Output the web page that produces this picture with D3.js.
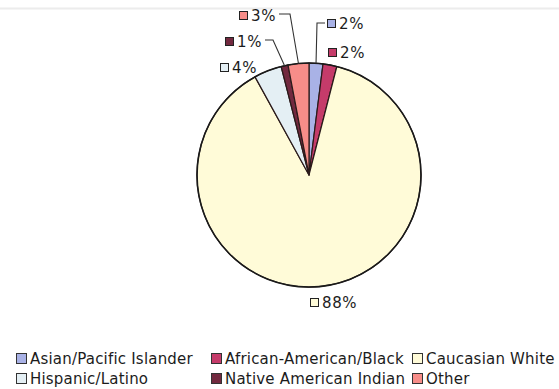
<!DOCTYPE html>
<html>
<head>
<meta charset="utf-8">
<script src="https://cdn.jsdelivr.net/npm/d3@7"></script>
<style>
  html, body { margin: 0; padding: 0; background: #fff; }
  svg { display: block; }
  text { font-family: "DejaVu Sans", Verdana, sans-serif; fill: #1c1c1c; }
</style>
</head>
<body>
<svg id="chart" width="559" height="389"></svg>
<script>
// Ethnic breakdown, percent of total
const categories = ["Asian/Pacific Islander", "African-American/Black", "Caucasian White",
                    "Hispanic/Latino", "Native American Indian", "Other"];
const values = [2, 2, 88, 4, 1, 3];
const colors = ["#a9b2e6", "#c53b6a", "#fffbd8", "#e4eff4", "#72293f", "#f78d89"];
// Legend order: two rows of three
const legendOrder = [0, 1, 2, 3, 4, 5];

const svg = d3.select("#chart");
const cx = 309, cy = 175, r = 112;

// faint rule along the top edge
svg.append("line").attr("x1", 0).attr("x2", 559).attr("y1", 8.5).attr("y2", 8.5)
  .attr("stroke", "#ececec").attr("stroke-width", 2);

const data = categories.map((c, i) => ({ name: c, value: values[i], color: colors[i] }));
const pie = d3.pie().value(d => d.value).sort(null);
const arcs = pie(data);
const arc = d3.arc().innerRadius(0).outerRadius(r);

const g = svg.append("g").attr("transform", `translate(${cx},${cy})`);
g.selectAll("path.slice").data(arcs).enter().append("path")
  .attr("class", "slice")
  .attr("d", arc)
  .attr("fill", d => d.data.color)
  .attr("stroke", "#2a1a1a")
  .attr("stroke-width", 1.2)
  .attr("stroke-linejoin", "round");

// outer rim
g.append("circle").attr("r", r).attr("fill", "none").attr("stroke", "#1a1a1a").attr("stroke-width", 1.6);

// Data labels: swatch + percent, some with a leader line to the slice rim
const labelPos = [
  { x: 327, y: 29, leader: true, elbowX: 317, lineY: 23 },   // Asian
  { x: 328, y: 58, leader: false },                          // African-American
  { x: 310, y: 308, leader: false },                         // Caucasian
  { x: 220, y: 73, leader: false },                          // Hispanic
  { x: 225, y: 47, leader: true, elbowX: 273, lineY: 40 },   // Native American
  { x: 239, y: 21, leader: true, elbowX: 290, lineY: 14 }    // Other
];

const lab = svg.append("g");
arcs.forEach((a, i) => {
  const p = labelPos[i];
  lab.append("rect")
    .attr("x", p.x + 0.5).attr("y", p.y - 9.5)
    .attr("width", 8).attr("height", 8)
    .attr("fill", a.data.color).attr("stroke", "#222").attr("stroke-width", 1);
  const t = lab.append("text")
    .attr("x", p.x + 12).attr("y", p.y)
    .attr("font-size", 15)
    .attr("letter-spacing", 0.6)
    .text(d3.format(".0f")(a.data.value) + "%");
  if (p.leader) {
    const mid = (a.startAngle + a.endAngle) / 2;
    const ex = cx + Math.sin(mid) * r, ey = cy - Math.cos(mid) * r;
    const hx0 = p.elbowX < p.x ? p.x - 2
                               : p.x + 12 + t.node().getComputedTextLength() + 3;
    lab.append("path")
      .attr("d", `M${hx0},${p.lineY}H${p.elbowX}L${ex},${ey}`)
      .attr("fill", "none").attr("stroke", "#333").attr("stroke-width", 1.1);
  }
});

// Legend
const legendX = [16, 211, 412];
const legendY = [364, 384];
const leg = svg.append("g");
legendOrder.forEach((idx, k) => {
  const col = k % 3, row = Math.floor(k / 3);
  const x = legendX[col], y = legendY[row];
  leg.append("rect")
    .attr("x", x + 0.5).attr("y", y - 10.5)
    .attr("width", 10).attr("height", 10)
    .attr("fill", colors[idx]).attr("stroke", "#333").attr("stroke-width", 1);
  leg.append("text")
    .attr("x", x + 14).attr("y", y)
    .attr("font-size", 15)
    .attr("letter-spacing", 0.2)
    .text(categories[idx]);
});
</script>
</body>
</html>
